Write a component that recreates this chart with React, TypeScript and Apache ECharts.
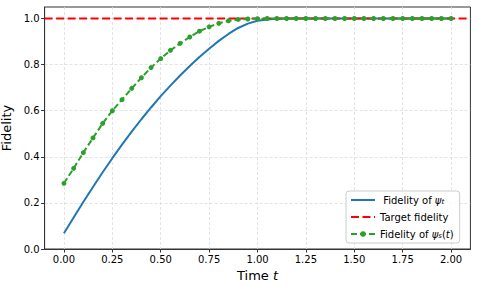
import React, { useEffect, useRef } from "react";
import * as echarts from "echarts";

const times = [
  0, 0.05, 0.1, 0.15, 0.2, 0.25, 0.3, 0.35, 0.4, 0.45, 0.5, 0.55, 0.6, 0.65, 0.7, 0.75, 0.8, 0.85, 0.9, 0.95,
  1.0, 1.05, 1.1, 1.15, 1.2, 1.25, 1.3, 1.35, 1.4, 1.45, 1.5, 1.55, 1.6, 1.65, 1.7, 1.75, 1.8, 1.85, 1.9, 1.95, 2.0,
];

const fidelityPsiT = [
  0.068, 0.137, 0.204, 0.269, 0.333, 0.394, 0.453, 0.509, 0.563, 0.614, 0.663, 0.709, 0.753, 0.794, 0.833, 0.869,
  0.903, 0.933, 0.959, 0.978, 0.99, 0.996, 0.999, 1.0, 1.0, 1.0, 1.0, 1.0, 1.0, 1.0, 1.0, 1.0, 1.0, 1.0, 1.0, 1.0,
  1.0, 1.0, 1.0, 1.0, 1.0,
];

const fidelityPsiS = [
  0.285, 0.35, 0.418, 0.482, 0.545, 0.6, 0.648, 0.697, 0.743, 0.787, 0.826, 0.862, 0.892, 0.92, 0.945, 0.964, 0.979,
  0.99, 0.996, 0.998, 0.999, 1.0, 1.0, 1.0, 1.0, 1.0, 1.0, 1.0, 1.0, 1.0, 1.0, 1.0, 1.0, 1.0, 1.0, 1.0, 1.0, 1.0,
  1.0, 1.0, 1.0,
];

const targetFidelity = 1.0;
const targetSpan = [-0.1, 2.1];

const xTicks = [0, 0.25, 0.5, 0.75, 1.0, 1.25, 1.5, 1.75, 2.0];
const yTicks = [0, 0.2, 0.4, 0.6, 0.8, 1.0];

const legendLabels: Record<string, string> = {
  psiT: " Fidelity of {i|ψ}{s|t}",
  target: "Target fidelity",
  psiS: "Fidelity of {i|ψ}{s|s}({i|t})",
};

export default function App() {
  const ref = useRef<HTMLDivElement>(null);
  useEffect(() => {
    const chart = echarts.init(ref.current!, null, { renderer: "svg" });
    const font = "DejaVu Sans";
    const spine = "#333333";
    const gridLine = { show: true, lineStyle: { color: "#dcdcdc", type: [3, 2], width: 0.8 } };
    chart.setOption({
      animation: false,
      grid: {
        left: 44.6,
        right: 7.6,
        top: 7,
        bottom: 38,
        show: true,
        borderColor: spine,
        borderWidth: 1,
        backgroundColor: "transparent",
        containLabel: false,
        outerBoundsMode: "none",
      },
      xAxis: {
        type: "value",
        min: -0.1,
        max: 2.1,
        axisLine: { show: true, onZero: false, lineStyle: { color: spine, width: 1 } },
        axisTick: { show: true, customValues: xTicks, length: 3.5, lineStyle: { color: spine, width: 1 } },
        axisLabel: {
          customValues: xTicks,
          formatter: (v: number) => v.toFixed(2),
          fontSize: 10,
          fontFamily: font,
          color: "#000",
          margin: 5,
        },
        splitLine: gridLine,
        name: "Time {i|t}",
        nameLocation: "middle",
        nameGap: 12,
        nameTextStyle: {
          fontSize: 13,
          fontFamily: font,
          color: "#000",
          rich: { i: { fontStyle: "italic", fontSize: 13, fontFamily: font, color: "#000" } },
        },
      },
      yAxis: {
        type: "value",
        min: 0,
        max: 1.05,
        axisLine: { show: true, onZero: false, lineStyle: { color: spine, width: 1 } },
        axisTick: { show: true, customValues: yTicks, length: 3.5, lineStyle: { color: spine, width: 1 } },
        axisLabel: {
          customValues: yTicks,
          formatter: (v: number) => v.toFixed(1),
          fontSize: 10,
          fontFamily: font,
          color: "#000",
          margin: 5,
        },
        splitLine: gridLine,
        name: "Fidelity",
        nameLocation: "middle",
        nameGap: 24,
        nameTextStyle: { fontSize: 13, fontFamily: font, color: "#000" },
      },
      legend: {
        orient: "vertical",
        left: 346,
        top: 191,
        data: [
          { name: "psiT", itemStyle: { opacity: 0 } },
          { name: "target", itemStyle: { opacity: 0 } },
          { name: "psiS" },
        ],
        itemWidth: 24,
        itemHeight: 7,
        itemGap: 7,
        padding: [4, 6, 4, 4],
        backgroundColor: "rgba(255,255,255,0.85)",
        borderColor: "#cccccc",
        borderWidth: 1,
        borderRadius: 3,
        formatter: (name: string) => legendLabels[name],
        textStyle: {
          fontSize: 10,
          fontFamily: font,
          color: "#000",
          rich: {
            i: { fontStyle: "italic", fontSize: 10, fontFamily: font, color: "#000" },
            s: { fontStyle: "italic", fontSize: 7, fontFamily: font, color: "#000", verticalAlign: "bottom", lineHeight: 6 },
          },
        },
      },
      series: [
        {
          name: "psiT",
          type: "line",
          data: times.map((t, i) => [t, fidelityPsiT[i]]),
          symbol: "none",
          showSymbol: false,
          lineStyle: { color: "#1f77b4", width: 2 },
          itemStyle: { color: "#1f77b4" },
          z: 2,
        },
        {
          name: "target",
          type: "line",
          data: targetSpan.map((x) => [x, targetFidelity]),
          symbol: "none",
          showSymbol: false,
          lineStyle: { color: "#ff0000", width: 2, type: [8, 3.5] },
          itemStyle: { color: "#ff0000" },
          z: 3,
        },
        {
          name: "psiS",
          type: "line",
          data: times.map((t, i) => [t, fidelityPsiS[i]]),
          symbol: "circle",
          symbolSize: 5,
          lineStyle: { color: "#2ca02c", width: 2, type: [6, 3] },
          itemStyle: { color: "#2ca02c" },
          z: 4,
        },
      ],
    });
    return () => chart.dispose();
  }, []);
  return <div ref={ref} style={{ position: "absolute", left: 0, top: 0, width: 478, height: 287 }} />;
}
